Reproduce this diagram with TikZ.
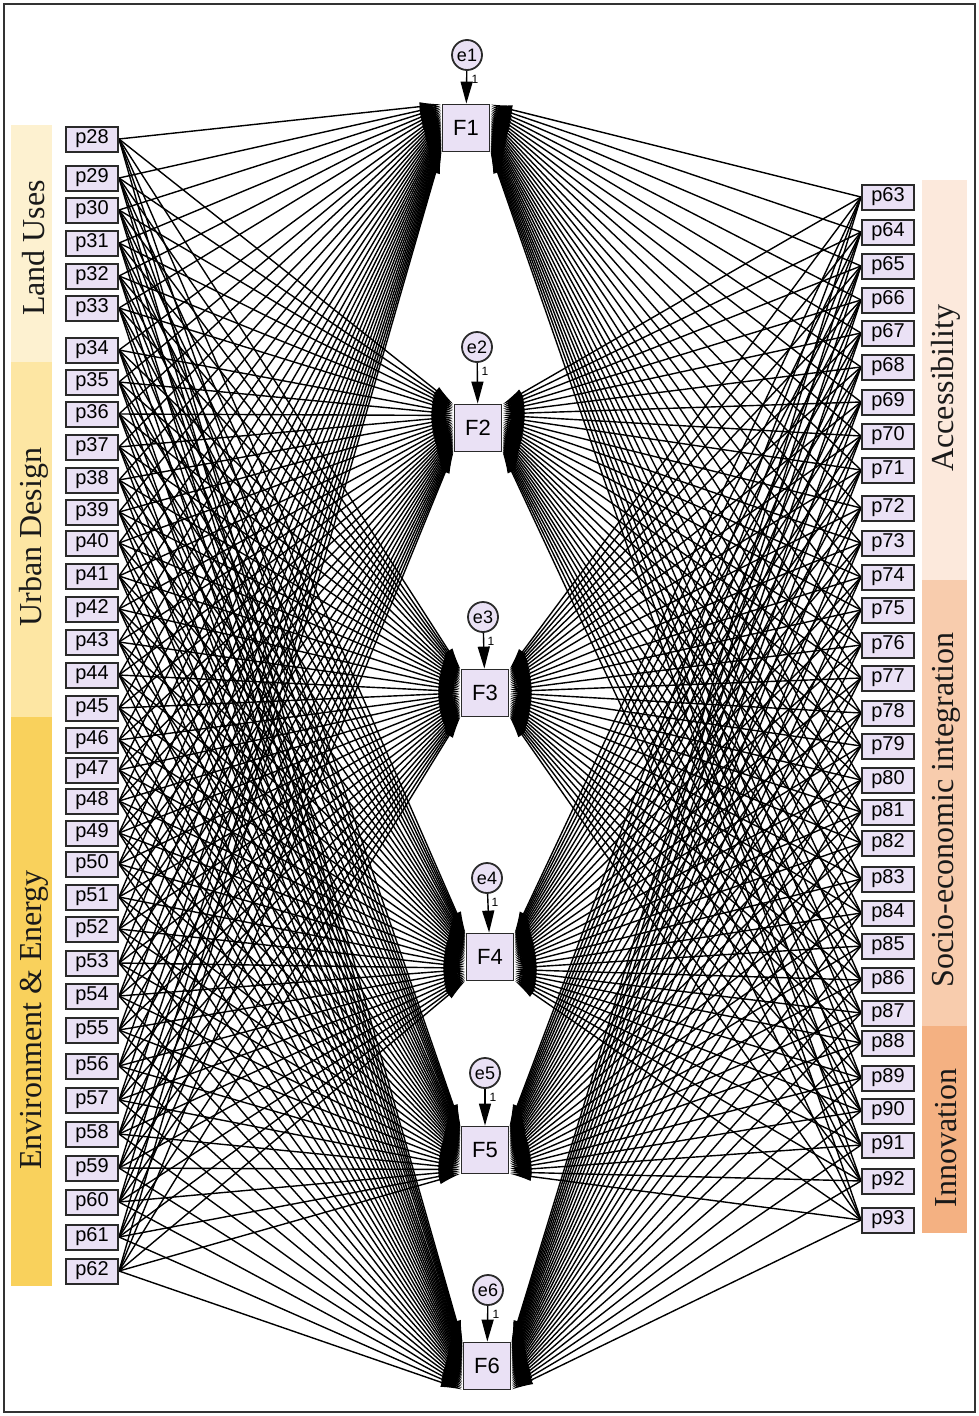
\documentclass[tikz,border=0pt]{standalone}
\usepackage{fontspec}
\setmainfont{Liberation Serif}
\setsansfont{Liberation Sans}
\usetikzlibrary{arrows.meta,calc}
\definecolor{boxfill}{HTML}{EAE1F5}
\definecolor{landuse}{HTML}{FDF1D0}
\definecolor{urban}{HTML}{FDE6A3}
\definecolor{envir}{HTML}{F9D15C}
\definecolor{access}{HTML}{FCE9DC}
\definecolor{socio}{HTML}{F8CCAD}
\definecolor{innov}{HTML}{F4B182}
\definecolor{edge}{HTML}{2A2A2A}
\pgfdeclarelayer{bg}
\pgfsetlayers{bg,main}
\begin{document}
\begin{tikzpicture}[x=1pt,y=-1pt,
  pbox/.style={draw=edge,line width=2pt,fill=boxfill,minimum width=52pt,minimum height=25pt,inner sep=0pt,font=\sffamily\fontsize{20}{20}\selectfont},
  fbox/.style={draw=edge,line width=1.8pt,fill=boxfill,minimum width=47pt,minimum height=47pt,inner sep=0pt,font=\sffamily\fontsize{22}{22}\selectfont},
  ecirc/.style={circle,draw=edge,line width=1.8pt,fill=boxfill,minimum size=30pt,inner sep=0pt,font=\sffamily\fontsize{18}{18}\selectfont},
  link/.style={line width=1.4pt,black,-{Latex[length=22pt,width=9pt]}},
  errlink/.style={line width=1.4pt,black,-{Triangle[length=22pt,width=12pt]}},
  one/.style={font=\sffamily\fontsize{12}{12}\selectfont,inner sep=0pt},
  bandlabel/.style={rotate=90,font=\fontsize{32}{32}\selectfont,text=black!90}
]
\useasboundingbox (0,0) rectangle (979,1416);

% side bands
\begin{pgfonlayer}{bg}
\fill[white] (0,0) rectangle (979,1416);
\fill[landuse] (11,125) rectangle (52,362);
\fill[urban] (11,362) rectangle (52,717);
\fill[envir] (11,717) rectangle (52,1286);
\fill[access] (922,180) rectangle (967,580);
\fill[socio] (922,580) rectangle (967,1026);
\fill[innov] (922,1026) rectangle (967,1233);
\end{pgfonlayer}
\draw[line width=1.5pt,black!80] (4,4) rectangle (975,1412);
\node[bandlabel] (lLand) at (34,248) {Land Uses};
\node[bandlabel] (lUrban) at (34,537) {Urban Design};
\node[bandlabel] (lEnv) at (34,1020) {Environment \& Energy};
\node[bandlabel] (lAcc) at (946,388) {Accessibility};
\node[bandlabel] (lSoc) at (946,810) {Socio-economic integration};
\node[bandlabel] (lInn) at (946,1138) {Innovation};

% left indicators
\foreach \n/\yy in {28/139,29/178,30/210,31/243,32/276,33/308,34/350,35/382,36/414,37/447,38/480,39/512,40/543,41/576,42/609,43/642,44/675,45/708,46/740,47/770,48/801,49/833,50/864,51/897,52/929,53/963,54/996,55/1030,56/1066,57/1100,58/1134,59/1168,60/1202,61/1237,62/1271}{
  \node[pbox] (p\n) at (92,\yy) {p\n};
}
% right indicators
\foreach \n/\yy in {63/197,64/232,65/266,66/300,67/333,68/367,69/402,70/436,71/470,72/508,73/543,74/577,75/610,76/645,77/678,78/713,79/746,80/780,81/812,82/843,83/879,84/913,85/946,86/980,87/1013,88/1043,89/1078,90/1111,91/1145,92/1181,93/1220}{
  \node[pbox] (p\n) at (888,\yy) {p\n};
}

% factors and errors
\foreach \k/\fx/\fy/\ex/\ey in {1/466/128/467/55,2/478/428/477/347,3/485/693/483/617,4/490/957/487/878,5/485/1150/485/1073,6/487/1366/488/1290}{
  \node[fbox] (F\k) at (\fx,\fy) {F\k};
  \node[ecirc] (e\k) at (\ex,\ey) {e\k};
  \node[one] (one\k) at ($(e\k.south)+(8,8)$) {1};
}

% links
\begin{pgfonlayer}{bg}
\foreach \k in {1,...,6}{
  \foreach \n in {28,...,62}{
    \pgfmathsetmacro{\t}{(\n-28+0.5)/35}
    \draw[link] (p\n.east) -- ($(F\k.north west)!\t!(F\k.south west)$);
  }
  \foreach \n in {63,...,93}{
    \pgfmathsetmacro{\t}{(\n-63+0.5)/31}
    \draw[link] (p\n.west) -- ($(F\k.north east)!\t!(F\k.south east)$);
  }
  \draw[errlink] (e\k) -- (F\k);
}
\end{pgfonlayer}
\end{tikzpicture}
\end{document}
